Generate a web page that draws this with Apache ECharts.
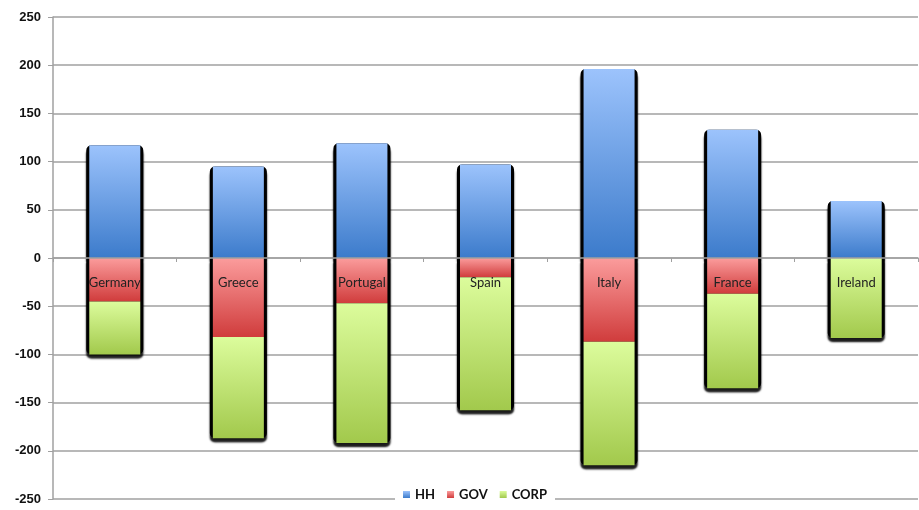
<!DOCTYPE html>
<html><head><meta charset="utf-8">
<script src="https://cdn.jsdelivr.net/npm/echarts@6/dist/echarts.min.js"></script>
<style>html,body{margin:0;padding:0;background:#fff}#c{width:919px;height:510px}</style>
</head><body><div id="c"></div>
<script>
const categories = ['Germany','Greece','Portugal','Spain','Italy','France','Ireland'];
const hh   = [117, 95, 119, 97, 196, 133, 59];
const gov  = [-45, -82, -47, -20, -87, -37, 0];
const corp = [-55, -105, -145, -138, -128, -98, -83];
const yTicks = {min: -250, max: 250, interval: 50};

// outline ("frame") behind each stacked column, derived from the data
const frameUp = hh.slice();
const frameDown = gov.map((g, i) => g + corp[i]);

function grad(top, bottom) {
  return new echarts.graphic.LinearGradient(0, 0, 0, 1, [
    {offset: 0, color: top}, {offset: 1, color: bottom}
  ]);
}
function frameStyle(radius) {
  return {color: '#000', borderColor: '#000', borderWidth: 2, borderRadius: radius,
    shadowColor: 'rgba(0,0,0,0.9)', shadowBlur: 2, shadowOffsetY: 4};
}
const chart = echarts.init(document.getElementById('c'));
chart.setOption({
  animation: false,
  grid: {left: 53, right: 1, top: 17, bottom: 11, containLabel: false, outerBoundsMode: 'none'},
  legend: {
    top: 487, left: 395,
    itemWidth: 7, itemHeight: 7, itemGap: 12,
    backgroundColor: '#fff', padding: [1, 8],
    textStyle: {fontFamily: 'Lato', fontWeight: 'bold', fontSize: 13, color: '#111'},
    data: [{name: 'HH', icon: 'rect'}, {name: 'GOV', icon: 'rect'}, {name: 'CORP', icon: 'rect'}]
  },
  xAxis: [{
    type: 'category', data: categories, z: 10,
    position: 'bottom', offset: -241,
    axisLine: {onZero: false, lineStyle: {color: '#a0a0a0', width: 1.5}},
    axisTick: {show: true, length: 4, lineStyle: {color: '#a0a0a0'}},
    axisLabel: {margin: 18, fontFamily: 'Lato', fontSize: 13, color: '#222'}
  }, {
    type: 'category', data: categories, show: false
  }],
  yAxis: {
    type: 'value', min: yTicks.min, max: yTicks.max, interval: yTicks.interval,
    axisLine: {show: true, lineStyle: {color: '#a0a0a0', width: 1.5}},
    axisTick: {show: true, length: 5, lineStyle: {color: '#a0a0a0'}},
    splitLine: {lineStyle: {color: '#a0a0a0', width: 1.5}},
    axisLabel: {fontFamily: 'Liberation Sans', fontWeight: 'bold', fontSize: 13, color: '#111', margin: 12}
  },
  series: [
    {name: 'frameUp', type: 'bar', xAxisIndex: 1, stack: 'f', data: frameUp, barWidth: 57,
     itemStyle: frameStyle([4, 4, 0, 0]), silent: true},
    {name: 'frameDown', type: 'bar', xAxisIndex: 1, stack: 'f', data: frameDown, barWidth: 57,
     itemStyle: frameStyle([0, 0, 4, 4]), silent: true},
    {name: 'HH', type: 'bar', stack: 's', data: hh, barWidth: 51,
     color: '#4a86d8', itemStyle: {color: grad('#9cc3fc', '#3c7bcb')}},
    {name: 'GOV', type: 'bar', stack: 's', data: gov, barWidth: 51,
     color: '#e05a5a', itemStyle: {color: grad('#fb9c9c', '#d03c3c')}},
    {name: 'CORP', type: 'bar', stack: 's', data: corp, barWidth: 51,
     color: '#b2d864', itemStyle: {color: grad('#dcfc9c', '#a2c94c')}}
  ]
});
</script></body></html>
